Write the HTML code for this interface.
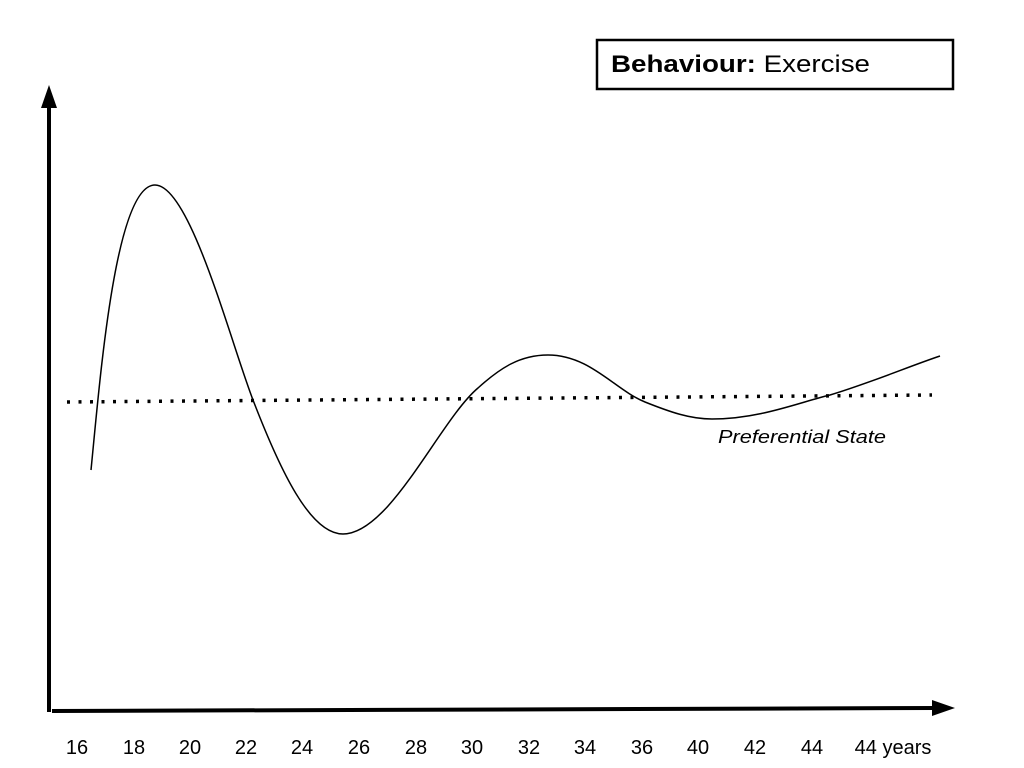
<!DOCTYPE html>
<html><head><style>
body{margin:0;background:#fff;}
svg{display:block}
</style></head><body>
<svg width="1024" height="768" viewBox="0 0 1024 768" xmlns="http://www.w3.org/2000/svg">
<rect x="597" y="40" width="356" height="49" fill="#fff" stroke="#000" stroke-width="2.5"/>
<text x="611" y="72" font-family="Liberation Sans, sans-serif" font-size="24" textLength="259" lengthAdjust="spacingAndGlyphs"><tspan font-weight="bold">Behaviour:</tspan> Exercise</text>
<line x1="49" y1="712" x2="49" y2="104" stroke="#000" stroke-width="4"/>
<polygon points="49,85 41,108 57,108" fill="#000"/>
<line x1="52" y1="711" x2="936" y2="708" stroke="#000" stroke-width="4"/>
<polygon points="955,708 932,700 932,716" fill="#000"/>
<line x1="67" y1="402" x2="932" y2="395" stroke="#000" stroke-width="3.5" stroke-dasharray="3,8.5"/>
<path d="M91,470 C100,380 115,185 155,185 C190,185 230,340 253,400 C280,470 310,534 343,534 C390,534 440,420 478,388 C500,368 520,355 548,355 C590,355 615,390 645,402 C670,412 690,419 712,419 C760,419 800,402 830,395 C870,383 910,366 940,356" fill="none" stroke="#000" stroke-width="1.5"/>
<text x="718" y="443" font-family="Liberation Sans, sans-serif" font-size="18" font-style="italic" textLength="168" lengthAdjust="spacingAndGlyphs">Preferential State</text>
<g font-family="Liberation Sans, sans-serif" font-size="20" text-anchor="middle">
<text x="77" y="754">16</text><text x="134" y="754">18</text><text x="190" y="754">20</text><text x="246" y="754">22</text><text x="302" y="754">24</text><text x="359" y="754">26</text><text x="416" y="754">28</text><text x="472" y="754">30</text><text x="529" y="754">32</text><text x="585" y="754">34</text><text x="642" y="754">36</text><text x="698" y="754">40</text><text x="755" y="754">42</text><text x="812" y="754">44</text>
<text x="893" y="754">44 years</text>
</g>
</svg>
</body></html>
